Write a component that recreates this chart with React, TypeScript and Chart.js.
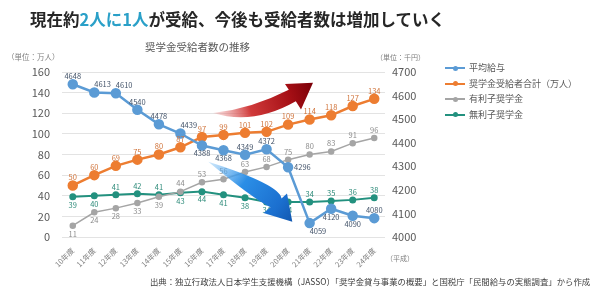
import { useEffect, useRef } from "react";
import { Chart, registerables } from "chart.js";

Chart.register(...registerables);

// Fiscal years (Heisei)
const years = [
  "10年度", "11年度", "12年度", "13年度", "14年度", "15年度", "16年度", "17年度",
  "18年度", "19年度", "20年度", "21年度", "22年度", "23年度", "24年度",
];

// Average salary (thousand yen, right axis)
const avgSalary = [4648, 4613, 4610, 4540, 4478, 4439, 4388, 4368, 4349, 4372, 4296, 4059, 4120, 4090, 4080];
// Scholarship recipients (10k people, left axis)
const totalRecipients = [50, 60, 69, 75, 80, 87, 97, 99, 101, 102, 109, 114, 118, 127, 134];
const interestLoans = [11, 24, 28, 33, 39, 44, 53, 56, 63, 68, 75, 80, 83, 91, 96];
const interestFreeLoans = [39, 40, 41, 42, 41, 43, 44, 41, 38, 34, 34, 34, 35, 36, 38];

// Axis ranges
const leftAxis = { min: 0, max: 160, step: 20 };
const rightAxis = { min: 4000, max: 4700, step: 100 };

// Series names
const seriesNames = ["平均給与", "奨学金受給者合計（万人）", "有利子奨学金", "無利子奨学金"];

// Where each value label sits relative to its point
const salaryLabelPos = ["a", "ar", "ar", "a", "a", "ar", "b", "b", "a", "a", "r", "br", "b", "b", "a"];
const totalLabelPos = Array(15).fill("a");
const interestLabelPos = ["b", "b", "b", "b", "b", "a", "a", "a", "a", "a", "a", "a", "a", "a", "a"];
const freeLabelPos = ["b", "b", "a", "a", "a", "b", "b", "b", "b", "b", "b", "a", "a", "a", "a"];

const COLORS = {
  blue: "#5b9bd5",
  orange: "#ed7d31",
  gray: "#a5a5a5",
  green: "#23917f",
};

const FONT = "'Noto Sans CJK JP', 'Noto Sans', sans-serif";

const valueLabels = {
  id: "valueLabels",
  afterDatasetsDraw(chart: any) {
    const ctx = chart.ctx;
    chart.data.datasets.forEach((ds: any, di: number) => {
      const meta = chart.getDatasetMeta(di);
      const places: string[] = ds.labelPlaces;
      ctx.save();
      ctx.font = `7.5px ${FONT}`;
      ctx.fillStyle = ds.labelColor;
      ctx.textBaseline = "middle";
      meta.data.forEach((pt: any, i: number) => {
        const p = places[i];
        let dx = 0;
        let dy = -8;
        let align: CanvasTextAlign = "center";
        if (p === "b") dy = 8;
        else if (p === "ar") { dx = 0; dy = -8; align = "left"; }
        else if (p === "br") { dx = 0; dy = 8; align = "left"; }
        else if (p === "r") { dx = 6; dy = 0; align = "left"; }
        ctx.textAlign = align;
        ctx.fillText(String(ds.data[i]), pt.x + dx, pt.y + dy);
      });
      ctx.restore();
    });
  },
};

type P = [number, number];

function drawSwoosh(
  chart: any,
  tail: P, topCtrl: P, topEnd: P, barb1: P, tip: P, barb2: P, botEnd: P, botCtrl: P,
  stops: [number, string][],
) {
  const { ctx, chartArea } = chart;
  const ox = chartArea.left;
  const oy = chartArea.top;
  const q = (p: P): P => [ox + p[0], oy + p[1]];
  const t = q(tail), tc = q(topCtrl), te = q(topEnd), b1 = q(barb1), tp = q(tip), b2 = q(barb2), be = q(botEnd), bc = q(botCtrl);
  ctx.save();
  const g = ctx.createLinearGradient(t[0], t[1], tp[0], tp[1]);
  stops.forEach(([o, c]) => g.addColorStop(o, c));
  ctx.fillStyle = g;
  ctx.beginPath();
  ctx.moveTo(t[0], t[1]);
  ctx.quadraticCurveTo(tc[0], tc[1], te[0], te[1]);
  ctx.lineTo(b1[0], b1[1]);
  ctx.lineTo(tp[0], tp[1]);
  ctx.lineTo(b2[0], b2[1]);
  ctx.lineTo(be[0], be[1]);
  ctx.quadraticCurveTo(bc[0], bc[1], t[0], t[1]);
  ctx.closePath();
  ctx.fill();
  ctx.restore();
}

const trendArrows = {
  id: "trendArrows",
  afterDraw(chart: any) {
    // rising recipients
    drawSwoosh(
      chart,
      [151, 41], [189, 37], [226.8, 17.7], [223, 12], [251, 10.7], [239, 37.5], [233.8, 29.3], [191.5, 53.5],
      [[0, "rgba(235,140,140,0.25)"], [0.35, "#d03a3a"], [0.75, "#a50f15"], [1, "#7a0008"]],
    );
    // falling salary
    drawSwoosh(
      chart,
      [146.3, 89.7], [218, 112.5], [219.5, 126.4], [225, 121.5], [230.3, 149.7], [201.5, 141], [208.5, 135.3], [190, 126],
      [[0, "rgba(120,190,245,0.35)"], [0.4, "#2b8ee6"], [0.8, "#1b6fcf"], [1, "#1258b0"]],
    );
  },
};

export default function App() {
  const canvasRef = useRef<HTMLCanvasElement | null>(null);

  useEffect(() => {
    const canvas = canvasRef.current;
    if (!canvas) return;
    const chart = new Chart(canvas, {
      type: "line",
      data: {
        labels: years,
        datasets: [
          {
            label: seriesNames[0],
            data: avgSalary,
            yAxisID: "yRight",
            borderColor: COLORS.blue,
            backgroundColor: COLORS.blue,
            borderWidth: 2.5,
            pointRadius: 4,
            pointHoverRadius: 4,
            tension: 0,
            labelPlaces: salaryLabelPos,
            labelColor: "#44546a",
          } as any,
          {
            label: seriesNames[1],
            data: totalRecipients,
            yAxisID: "yLeft",
            borderColor: COLORS.orange,
            backgroundColor: COLORS.orange,
            borderWidth: 2.5,
            pointRadius: 4,
            pointHoverRadius: 4,
            labelPlaces: totalLabelPos,
            labelColor: "#d0733a",
          } as any,
          {
            label: seriesNames[2],
            data: interestLoans,
            yAxisID: "yLeft",
            borderColor: COLORS.gray,
            backgroundColor: COLORS.gray,
            borderWidth: 1.5,
            pointRadius: 2.5,
            pointHoverRadius: 2.5,
            labelPlaces: interestLabelPos,
            labelColor: "#8c8c8c",
          } as any,
          {
            label: seriesNames[3],
            data: interestFreeLoans,
            yAxisID: "yLeft",
            borderColor: COLORS.green,
            backgroundColor: COLORS.green,
            borderWidth: 2,
            pointRadius: 2.5,
            pointHoverRadius: 2.5,
            labelPlaces: freeLabelPos,
            labelColor: "#2e8b7a",
          } as any,
        ],
      },
      options: {
        responsive: false,
        animation: false,
        events: [],
        layout: { padding: { top: 72, left: 0, right: 0, bottom: 0 } },
        plugins: {
          legend: { display: false },
          tooltip: { enabled: false },
        },
        scales: {
          x: {
            offset: true,
            grid: { display: false },
            border: { display: false },
            ticks: {
              minRotation: 45,
              maxRotation: 45,
              padding: 1,
              color: "#7f7f7f",
              font: { family: FONT, size: 7.5 },
            },
            afterFit(scale: any) { scale.height = 53; },
          },
          yLeft: {
            position: "left",
            min: leftAxis.min,
            max: leftAxis.max,
            ticks: {
              stepSize: leftAxis.step,
              padding: 12,
              color: "#595959",
              font: { family: FONT, size: 11 },
              callback: (v: any) => String(v),
            },
            grid: { color: "#e3e3e3", lineWidth: 1, drawTicks: false },
            border: { display: false },
            afterFit(scale: any) { scale.width = 62; },
          },
          yRight: {
            position: "right",
            min: rightAxis.min,
            max: rightAxis.max,
            ticks: {
              stepSize: rightAxis.step,
              padding: 7,
              color: "#595959",
              font: { family: FONT, size: 11 },
              callback: (v: any) => String(v),
            },
            grid: { drawOnChartArea: false, drawTicks: false },
            border: { display: false },
            afterFit(scale: any) { scale.width = 205; },
          },
        },
      } as any,
      plugins: [valueLabels, trendArrows],
    });
    return () => chart.destroy();
  }, []);

  const legendColors = [COLORS.blue, COLORS.orange, COLORS.gray, COLORS.green];

  return (
    <div
      style={{
        position: "fixed",
        left: 0,
        top: 0,
        width: 590,
        height: 290,
        background: "#ffffff",
        overflow: "hidden",
        fontFamily: FONT,
      }}
    >
      <canvas ref={canvasRef} width={590} height={290} style={{ position: "absolute", left: 0, top: 0 }} />
      <div
        style={{
          position: "absolute",
          left: 30,
          top: 9,
          fontSize: 16.5,
          lineHeight: "20px",
          fontWeight: 700,
          color: "#262626",
          whiteSpace: "nowrap",
        }}
      >
        現在約<span style={{ color: "#2aa0c8" }}>2人に1人</span>が受給、今後も受給者数は増加していく
      </div>
      <div
        style={{
          position: "absolute",
          left: 0,
          width: 395,
          top: 40,
          textAlign: "center",
          fontSize: 10.5,
          lineHeight: "13px",
          color: "#595959",
          whiteSpace: "nowrap",
        }}
      >
        奨学金受給者数の推移
      </div>
      <div style={{ position: "absolute", left: 7, top: 52, fontSize: 7.5, lineHeight: "10px", color: "#7f7f7f", whiteSpace: "nowrap" }}>
        （単位：万人）
      </div>
      <div style={{ position: "absolute", left: 376, top: 52, fontSize: 7, lineHeight: "10px", color: "#7f7f7f", whiteSpace: "nowrap" }}>
        （単位：千円）
      </div>
      <div style={{ position: "absolute", left: 386, top: 253, fontSize: 7, lineHeight: "10px", color: "#7f7f7f", whiteSpace: "nowrap" }}>
        （平成）
      </div>
      {seriesNames.map((name, i) => (
        <div
          key={name}
          style={{
            position: "absolute",
            left: 445,
            top: 62 + i * 15.5,
            height: 12,
            display: "flex",
            alignItems: "center",
            whiteSpace: "nowrap",
          }}
        >
          <div style={{ position: "relative", width: 20, height: 12, marginRight: 4 }}>
            <div style={{ position: "absolute", left: 0, top: 5, width: 20, height: 2, background: legendColors[i] }} />
            <div
              style={{
                position: "absolute",
                left: 7.5,
                top: 3.5,
                width: 5,
                height: 5,
                borderRadius: "50%",
                background: legendColors[i],
              }}
            />
          </div>
          <span style={{ fontSize: 9, lineHeight: "12px", color: "#595959" }}>{name}</span>
        </div>
      ))}
      <div
        style={{
          position: "absolute",
          left: 150,
          top: 275,
          fontSize: 8.4,
          lineHeight: "12px",
          color: "#404040",
          whiteSpace: "nowrap",
        }}
      >
        出典：独立行政法人日本学生支援機構（JASSO）「奨学金貸与事業の概要」と国税庁「民間給与の実態調査」から作成
      </div>
    </div>
  );
}
